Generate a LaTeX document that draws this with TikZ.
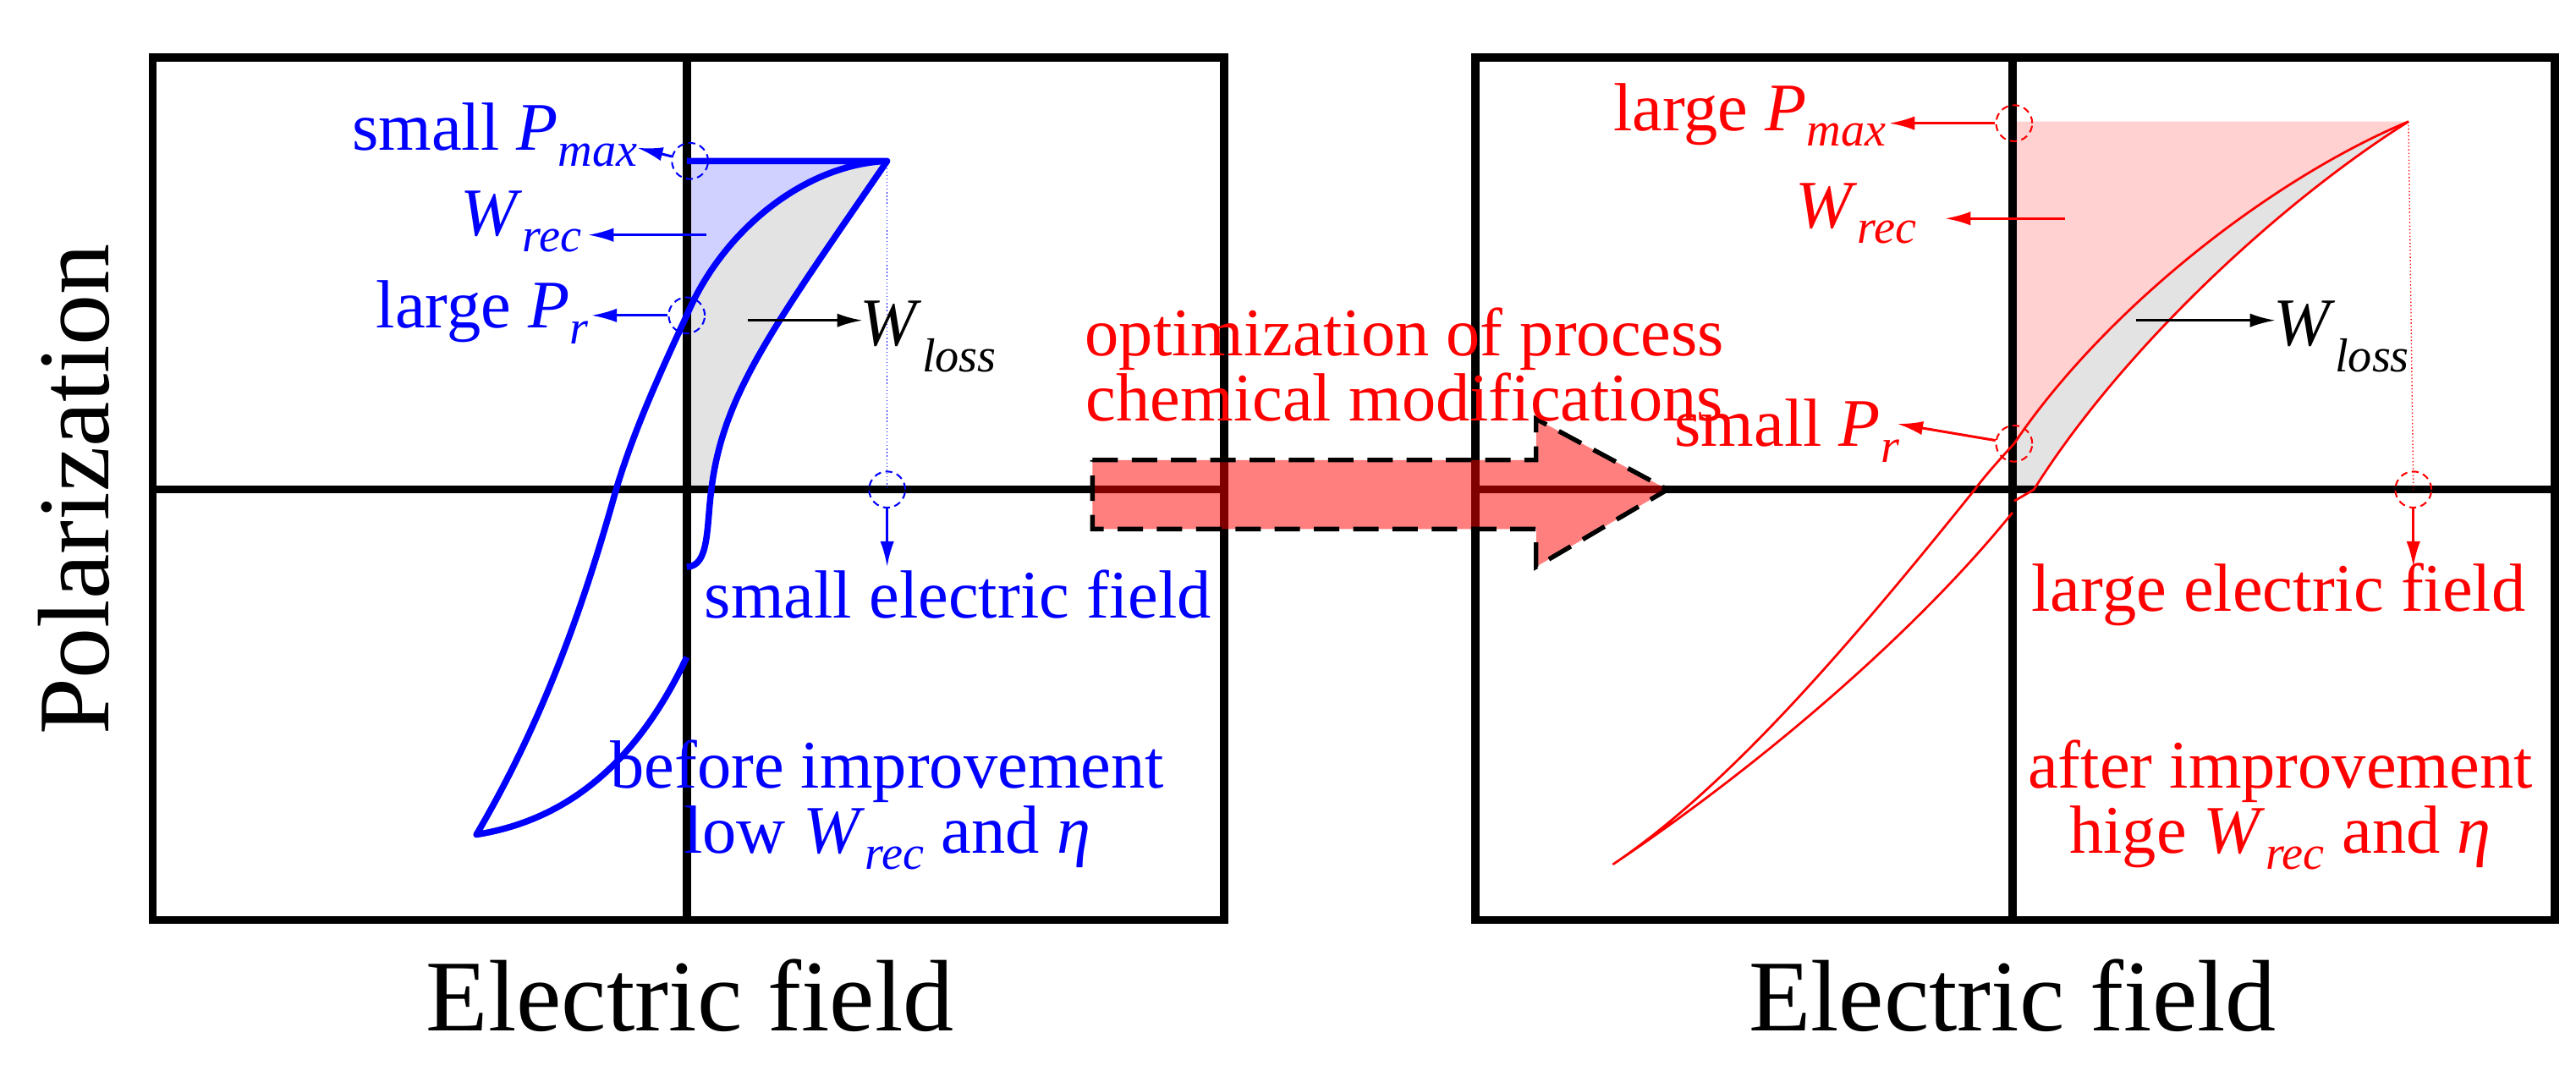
\documentclass[tikz,border=0pt]{standalone}
\usepackage{fontspec}
\setmainfont{Liberation Serif}
\newfontfamily\tms{Liberation Serif}
\usetikzlibrary{arrows.meta}
\newcommand\ip[2]{\textit{#1}\textsubscript{\textit{#2}}}
\begin{document}
\begin{tikzpicture}[x=0.5mm,y=-0.5mm,
 box/.style={line width=7pt},
 big/.style={font=\tms\fontsize{88}{96}\selectfont},
 lab/.style={font=\tms\fontsize{88}{84}\selectfont,scale=0.67,transform shape},
 circ/.style={draw,dash pattern=on 6pt off 4pt,line width=1.5pt,circle,minimum size=11mm,inner sep=0pt},
 arr/.style={-{Latex[length=22pt,width=12pt]},line width=2.2pt}]
\useasboundingbox (0,0) rectangle (1568,658.6);
% ---------- left panel ----------
\fill[gray!22] (540,98) .. controls (490,100) and (440,140) .. (418,192) -- (418,298) -- (433,298) .. controls (440,240) and (470,200) .. (540,98);
\fill[blue!18] (418,98) -- (540,98) .. controls (490,100) and (440,140) .. (418,192) -- cycle;
\draw[box] (93,35) rectangle (745,560);
\draw[box] (418,35) -- (418,560);
\draw[box] (93,298) -- (745,298);
\draw[blue,line width=5.5pt,line join=round]
 (418,98) -- (540,98) .. controls (490,100) and (440,140) .. (418,192)
 .. controls (398,235) and (385,265) .. (375,298)
 .. controls (355,370) and (330,440) .. (290,508)
 .. controls (340,500) and (385,470) .. (418,400);
\draw[blue,line width=5.5pt] (418,345) .. controls (432,345) and (430,320) .. (433,298) .. controls (440,240) and (470,200) .. (540,98);
\draw[blue,dotted,line width=1pt] (540,98) -- (540,298);
\node[circ,blue] (lpm) at (420,98) {};
\node[circ,blue] (lpr) at (418,192) {};
\node[circ,blue] (le) at (540,298) {};
\coordinate (lpmE) at (388,90);
\coordinate (lwrS) at (430,143); \coordinate (lwrE) at (358,143);
\coordinate (lprE) at (360,192);
\coordinate (llS) at (455,195); \coordinate (llE) at (525,195);
\coordinate (leE) at (540,345);
\draw[arr,blue] (lpm) -- (lpmE);
\draw[arr,blue] (lwrS) -- (lwrE);
\draw[arr,blue] (lpr) -- (lprE);
\draw[arr,black] (llS) -- (llE);
\draw[arr,blue] (le) -- (leE);
\node[lab,blue,anchor=east] (tpm) at (390,82) {small \ip{P}{max}};
\node[lab,blue,anchor=east] (twr) at (356,135) {\ip{W}{rec}};
\node[lab,blue,anchor=east] (tpr) at (360,190) {large \ip{P}{r}};
\node[lab,black,anchor=west] (twl) at (522,205) {\ip{W}{loss}};
\node[lab,blue] (tef) at (583,362) {small electric field};
\node[lab,blue,align=center] (tbi) at (540,490) {before improvement\\low \ip{W}{rec} and \textit{η}};
% ---------- right panel ----------
\fill[gray!22] (1466,74) .. controls (1380,110) and (1280,190) .. (1226,270) -- (1226,298) -- (1238,298) .. controls (1290,215) and (1385,125) .. (1466,74);
\fill[red!18] (1226,74) -- (1466,74) .. controls (1380,110) and (1280,190) .. (1226,270) -- cycle;
\draw[box] (898,35) rectangle (1555,560);
\draw[box] (1225,35) -- (1225,560);
\draw[box] (898,298) -- (1555,298);
\draw[red,line width=2pt,line join=round]
 (1466,74) .. controls (1380,110) and (1280,190) .. (1226,270)
 .. controls (1215,282) and (1208,290) .. (1202,298)
 .. controls (1120,400) and (1050,480) .. (982,526)
 .. controls (1080,460) and (1170,380) .. (1225,312);
\draw[red,line width=2pt] (1226,305) -- (1238,298) .. controls (1290,215) and (1385,125) .. (1466,74);
\draw[red,dotted,line width=1pt] (1466,74) -- (1469,298);
\node[circ,red] (rpm) at (1226,75) {};
\node[circ,red] (rpr) at (1226,270) {};
\node[circ,red] (re) at (1469,298) {};
\coordinate (rpmE) at (1150,75);
\coordinate (rwrS) at (1257,133); \coordinate (rwrE) at (1184,133);
\coordinate (rprE) at (1155,258);
\coordinate (rlS) at (1300,195); \coordinate (rlE) at (1385,195);
\coordinate (reE) at (1469,345);
\draw[arr,red] (rpm) -- (rpmE);
\draw[arr,red] (rwrS) -- (rwrE);
\draw[arr,red] (rpr) -- (rprE);
\draw[arr,black] (rlS) -- (rlE);
\draw[arr,red] (re) -- (reE);
\node[lab,red,anchor=east] (rtpm) at (1150,70) {large \ip{P}{max}};
\node[lab,red] (rtwr) at (1130,130) {\ip{W}{rec}};
\node[lab,red,anchor=east] (rtpr) at (1158,262) {small \ip{P}{r}};
\node[lab,black,anchor=west] (rtwl) at (1382,205) {\ip{W}{loss}};
\node[lab,red] (ref) at (1387,362) {large electric field};
\node[lab,red,align=center] (rai) at (1388,490) {after improvement\\hige \ip{W}{rec} and \textit{η}};
% ---------- big arrow ----------
\draw[dash pattern=on 22pt off 12pt,line width=4pt,fill=red,fill opacity=0.5,draw opacity=1]
 (665,280) -- (935,280) -- (935,255) -- (1015,298) -- (935,345) -- (935,322) -- (665,322) -- cycle;
\node[lab,red,align=center] (opt) at (855,222) {optimization of process\\chemical modifications};
% ---------- axis labels ----------
\node[big] (xl1) at (420,606) {Electric field};
\node[big] (xl2) at (1225,606) {Electric field};
\node[big,rotate=90] (yl) at (45,298) {Polarization};
\end{tikzpicture}
\end{document}
